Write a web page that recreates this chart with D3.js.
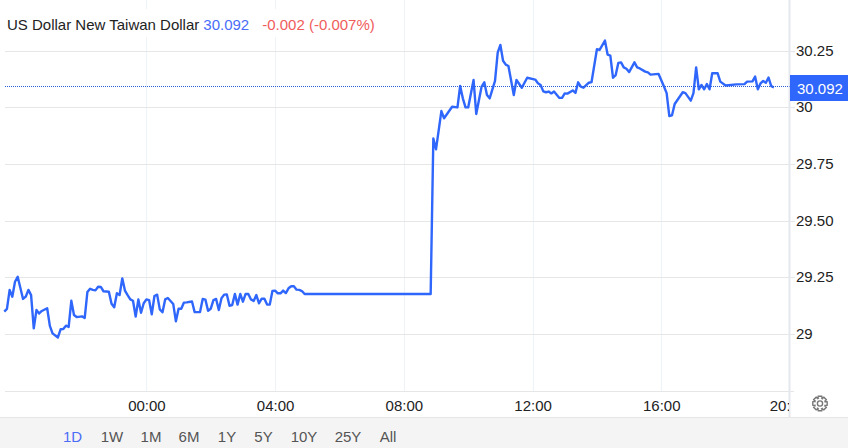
<!DOCTYPE html>
<html><head><meta charset="utf-8">
<script src="https://cdnjs.cloudflare.com/ajax/libs/d3/7.8.5/d3.min.js"></script>
<style>html,body{margin:0;padding:0;background:#fff;overflow:hidden}svg{display:block;font-family:"Liberation Sans",Arial,sans-serif}</style>
</head><body><svg id="c" width="848" height="448"></svg>
<script>
const titleText = "US Dollar New Taiwan Dollar";
const lastValue = 30.092;
const changeText = "-0.002 (-0.007%)";
const ranges = ["1D","1W","1M","6M","1Y","5Y","10Y","25Y","All"];
const yTicks = [29,29.25,29.5,29.75,30,30.25];
const yTickLabels = ["29","29.25","29.50","29.75","30","30.25"];
const xTicks = [0,240,480,720,960,1200];
const xTickLabels = ["00:00","04:00","08:00","12:00","16:00","20:00"];
// minutes relative to 00:00
const minutes = [-265,-260,-255,-250,-245,-240,-230,-225,-220,-215,-210,-205,-200,-195,-185,-180,-175,-165,-160,-155,-150,-145,-140,-135,-130,-120,-115,-110,-105,-100,-95,-90,-85,-80,-70,-65,-60,-55,-50,-45,-40,-35,-30,-25,-20,-15,-10,-5,0,5,10,15,20,25,30,35,40,45,50,55,60,65,70,75,85,90,100,105,110,115,120,125,130,135,140,145,150,155,160,165,170,175,180,185,190,195,200,205,210,215,220,225,230,235,240,245,250,255,260,265,270,275,280,285,290,295,530,535,540,550,555,570,580,585,590,595,600,610,615,625,630,635,640,650,655,660,665,670,675,685,690,700,710,725,730,735,740,745,750,755,760,770,775,780,785,795,800,805,810,815,825,830,840,845,855,860,865,870,875,880,885,890,895,900,910,915,920,930,935,940,955,965,970,975,980,985,1000,1005,1015,1020,1025,1030,1035,1040,1045,1050,1055,1065,1070,1080,1100,1115,1120,1130,1135,1140,1145,1150,1155,1160,1165,1170];
const rates = [29.101,29.113,29.197,29.167,29.233,29.255,29.157,29.167,29.197,29.174,29.027,29.108,29.093,29.104,29.116,29.038,29.005,28.987,29.023,29.024,29.039,29.033,29.149,29.086,29.077,29.080,29.073,29.188,29.202,29.197,29.195,29.211,29.210,29.191,29.189,29.136,29.120,29.182,29.174,29.248,29.194,29.174,29.155,29.149,29.079,29.155,29.096,29.138,29.155,29.152,29.089,29.170,29.176,29.111,29.098,29.155,29.161,29.148,29.135,29.058,29.114,29.114,29.141,29.142,29.146,29.099,29.099,29.157,29.154,29.105,29.114,29.152,29.157,29.108,29.160,29.176,29.177,29.127,29.130,29.179,29.132,29.179,29.145,29.179,29.179,29.155,29.148,29.174,29.138,29.158,29.158,29.132,29.132,29.192,29.194,29.182,29.182,29.194,29.183,29.204,29.213,29.213,29.198,29.197,29.192,29.179,29.179,29.866,29.818,29.987,29.955,30.006,30.003,30.098,30.043,30.003,30.003,30.124,29.974,30.095,30.114,30.058,30.043,30.12,30.245,30.279,30.209,30.192,30.186,30.058,30.124,30.09,30.134,30.126,30.11,30.102,30.074,30.07,30.073,30.065,30.073,30.045,30.045,30.065,30.064,30.078,30.067,30.114,30.095,30.09,30.112,30.115,30.26,30.257,30.298,30.236,30.232,30.134,30.146,30.2,30.202,30.18,30.174,30.159,30.202,30.18,30.175,30.161,30.158,30.148,30.151,30.095,30.066,29.965,29.968,30.018,30.07,30.066,30.033,30.066,30.18,30.083,30.102,30.083,30.106,30.083,30.154,30.154,30.117,30.10,30.105,30.106,30.117,30.118,30.139,30.083,30.109,30.12,30.112,30.135,30.097,30.092];

const svg = d3.select("#c");
const L=5, B=391;
const x = d3.scaleLinear().domain([0,1200]).range([146.4,790]);
const y = d3.scaleLinear().domain([29,30.25]).range([334.5,51.5]);
const HX = 789.5;

svg.append("defs").append("clipPath").attr("id","xclip")
  .append("rect").attr("x",0).attr("y",B).attr("width",789).attr("height",30);

// bottom band
svg.append("rect").attr("x",0).attr("y",417).attr("width",848).attr("height",31).attr("fill","#f4f4f4");
svg.append("line").attr("x1",0).attr("x2",848).attr("y1",417.5).attr("y2",417.5).attr("stroke","#e6e6e6");

// grid
const grid = svg.append("g");
grid.selectAll("line.v").data(xTicks.slice(0,5)).join("line").attr("class","v")
  .attr("x1",d=>Math.round(x(d))+.5).attr("x2",d=>Math.round(x(d))+.5).attr("y1",0).attr("y2",B)
  .attr("stroke","#eef3f8");
grid.selectAll("line.h").data(yTicks).join("line").attr("class","h")
  .attr("x1",L).attr("x2",795).attr("y1",d=>Math.floor(y(d)-.2)+.5).attr("y2",d=>Math.floor(y(d)-.2)+.5)
  .attr("stroke","#e6e6e6");
svg.append("line").attr("x1",L).attr("x2",794).attr("y1",391.5).attr("y2",391.5).attr("stroke","#e6e6e6");
svg.append("line").attr("x1",HX).attr("x2",HX).attr("y1",0).attr("y2",417).attr("stroke","#e4e8ed").attr("stroke-width",2);

// title mask + title
svg.append("rect").attr("x",5).attr("y",9).attr("width",372).attr("height",28).attr("fill","#fff");
const t = svg.append("text").attr("x",7).attr("y",30).attr("font-size",15);
t.append("tspan").attr("fill","#222").text(titleText);
t.append("tspan").attr("fill","#4a6cf7").attr("dx",4).text(lastValue.toFixed(3));
t.append("tspan").attr("fill","#f05c5c").attr("dx",13).text(changeText);

// axes
const ax = svg.append("g").attr("transform",`translate(0,${B})`)
  .call(d3.axisBottom(x).tickValues(xTicks).tickSize(0).tickPadding(6).tickFormat((d,i)=>xTickLabels[i]));
ax.select(".domain").remove();
ax.selectAll("text").attr("font-family","Liberation Sans").attr("font-size",15).attr("fill","#222").attr("dy","0.9em")
  .attr("dx",d=>d===1200?-2:0);
const xw = svg.append("g").attr("clip-path","url(#xclip)");
xw.node().appendChild(ax.node());

const ay = svg.append("g").attr("transform","translate(796,0)")
  .call(d3.axisRight(y).tickValues(yTicks).tickSize(0).tickPadding(0).tickFormat((d,i)=>yTickLabels[i]));
ay.select(".domain").remove();
ay.selectAll("text").attr("font-family","Liberation Sans").attr("font-size",15).attr("fill","#222").attr("dy","0.25em");

// series
const line = d3.line().x((d,i)=>x(minutes[i])).y(d=>y(d));
svg.append("path").attr("d",line(rates)).attr("fill","none").attr("stroke","#2f66fb").attr("stroke-width",2.4).attr("stroke-linejoin","round");

// last price line and tag
const ly = Math.floor(y(lastValue)-.7)+.5;
svg.append("line").attr("x1",L).attr("x2",HX).attr("y1",ly).attr("y2",ly).attr("stroke","#2a5fd8").attr("stroke-dasharray","1,1");
svg.append("rect").attr("x",790).attr("y",75).attr("width",58).attr("height",26).attr("fill","#2f66fb");
svg.append("text").attr("x",797).attr("y",94).attr("font-size",15).attr("fill","#fff").text(lastValue.toFixed(3));

// range buttons
const rangeCentres = [72.5,112,151,189,227,263.5,304,348,388];
svg.append("g").selectAll("text").data(ranges).join("text")
  .attr("x",(d,i)=>rangeCentres[i]).attr("y",442).attr("text-anchor","middle").attr("font-size",15)
  .attr("fill",(d,i)=>i===0?"#4a6cf7":"#555").text(d=>d);

// gear
const gear = svg.append("g").attr("transform","translate(820,403.5)").attr("fill","none").attr("stroke","#777");
const teeth = d3.range(8).map(i=>i*Math.PI/4);
const pts=[];teeth.forEach(a=>{[[-.24,7.4],[.24,7.4],[.42,5.4]].forEach(([o,r])=>pts.push([Math.cos(a+o)*r,Math.sin(a+o)*r]));pts.push([Math.cos(a+Math.PI/8)*5.4,Math.sin(a+Math.PI/8)*5.4]);});
gear.append("path").attr("d",d3.line().curve(d3.curveLinearClosed)(pts)).attr("stroke-width",1.4);
gear.append("circle").attr("r",2.6).attr("stroke-width",1.4);
</script></body></html>
